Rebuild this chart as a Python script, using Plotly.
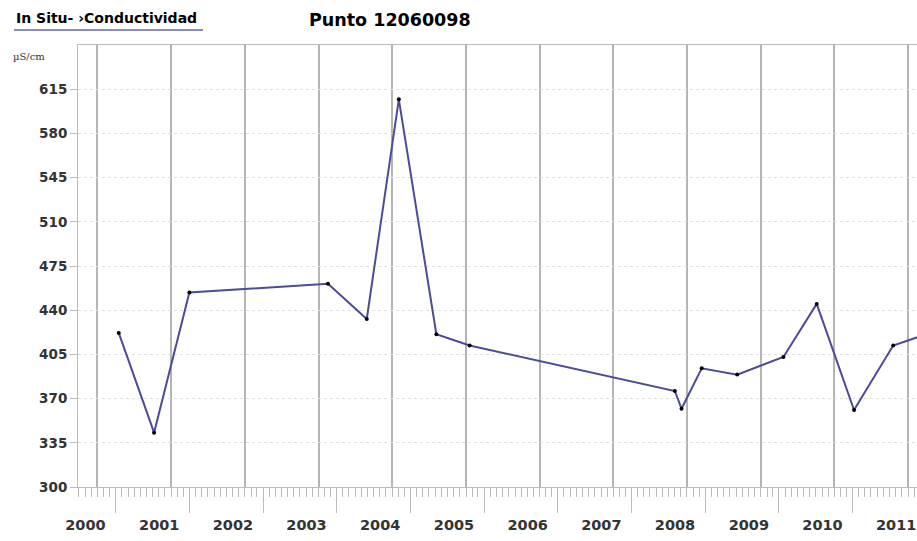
import plotly.graph_objects as go

# Sample dates and conductivity values (uS/cm)
sample_dates = ['2000-04-16', '2000-10-08', '2001-04-01', '2003-02-17', '2003-08-28',
                '2004-02-03', '2004-08-07', '2005-01-19', '2007-11-02', '2007-12-05',
                '2008-03-14', '2008-09-06', '2009-04-23', '2009-10-05', '2010-04-08',
                '2010-10-19', '2011-04-02']
conductivity = [422, 343, 454, 461, 433,
                607, 421, 412, 376, 362,
                394, 389, 403, 445, 361,
                412, 421]

years = list(range(2000, 2012))
year_ticks = [f'{y}-01-01' for y in years]
year_labels = [str(y) for y in years]
long_ticks = [f'{y}-04-01' for y in years]

x_range = ['1999-09-27', '2011-02-14']
y_ticks = list(range(300, 616, 35))

fig = go.Figure()

fig.add_trace(go.Scatter(x=sample_dates, y=conductivity,
                         mode='lines+markers',
                         line=dict(color='#4b4b98', width=2),
                         marker=dict(color='black', size=4),
                         showlegend=False))

# invisible trace so the overlay axis with the long ticks is drawn
fig.add_trace(go.Scatter(x=sample_dates, y=conductivity, xaxis='x2',
                         mode='lines', line=dict(width=0),
                         hoverinfo='skip', showlegend=False))

fig.update_layout(
    width=917, height=541,
    margin=dict(l=78, r=0, t=45, b=54),
    paper_bgcolor='white',
    plot_bgcolor='white',
    xaxis=dict(type='date', range=x_range,
               tickmode='array', tickvals=year_ticks, ticktext=year_labels,
               showgrid=True, gridcolor='#b4b4b4', gridwidth=2,
               ticks='outside', ticklen=9, tickcolor='#bbbbbb',
               minor=dict(dtick='M1', tick0='2000-01-01', ticks='outside',
                          ticklen=9, tickcolor='#bbbbbb', showgrid=False),
               showline=True, linecolor='#bbbbbb', mirror=True,
               zeroline=False,
               tickfont=dict(family='DejaVu Sans', size=14.5, color='#333333', weight='bold'),
               ticklabelshift=-12, ticklabelstandoff=16),
    xaxis2=dict(type='date', range=x_range, overlaying='x', side='bottom',
                tickmode='array', tickvals=long_ticks,
                ticks='outside', ticklen=25, tickcolor='#bbbbbb',
                showticklabels=False, showgrid=False, zeroline=False),
    yaxis=dict(range=[300, 650], tickmode='array', tickvals=y_ticks,
               showgrid=True, gridcolor='#e0e0e0', griddash='dot',
               ticks='outside', ticklen=7, tickcolor='#bbbbbb',
               showline=True, linecolor='#bbbbbb',
               zeroline=False,
               tickfont=dict(family='DejaVu Sans', size=13.5, color='#333333', weight='bold')),
)

fig.add_annotation(text='In Situ- \u203aConductividad', xref='paper', yref='paper',
                   x=-0.0763, y=1.061, xanchor='left', yanchor='middle', showarrow=False,
                   font=dict(family='DejaVu Sans', size=14, color='black', weight='bold'))
fig.add_shape(type='line', xref='paper', yref='paper',
              x0=-0.0763, x1=0.149, y0=1.034, y1=1.034,
              line=dict(color='#8a8ac8', width=2))
fig.add_annotation(text='Punto 12060098', xref='paper', yref='paper',
                   x=0.273, y=1.056, xanchor='left', yanchor='middle', showarrow=False,
                   font=dict(family='DejaVu Sans', size=17.5, color='black', weight='bold'))
fig.add_annotation(text='\u00b5S/cm', xref='paper', yref='paper',
                   x=-0.08, y=0.973, xanchor='left', yanchor='middle', showarrow=False,
                   font=dict(family='DejaVu Serif', size=10, color='#333333'))

# drop the default page margin so the chart sits at the top-left corner
fig.write_html("out.html", config={'displayModeBar': False},
               post_script="document.body.style.margin = '0';")
